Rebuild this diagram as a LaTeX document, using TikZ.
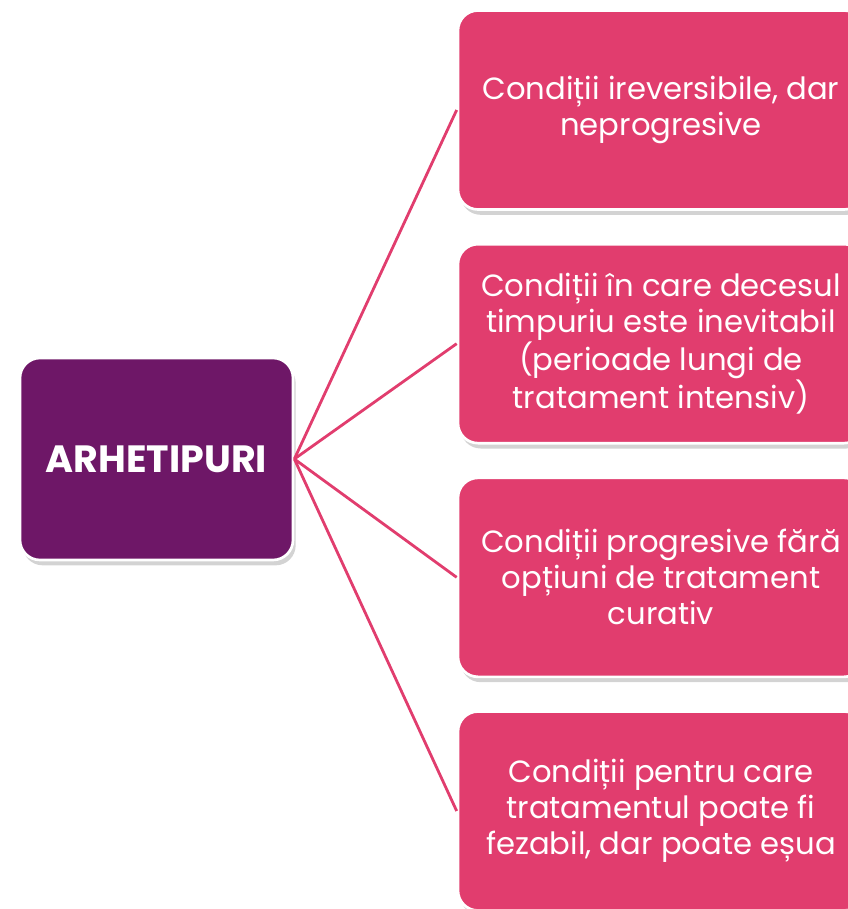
\documentclass[tikz,border=0pt]{standalone}
\usepackage{fontspec}
\setmainfont{Poppins}
\usetikzlibrary{positioning,shadows}
\definecolor{rootpurple}{HTML}{6E1767}
\definecolor{leafpink}{HTML}{E13D6E}
\tikzset{
  rootbox/.style={rectangle, rounded corners=15pt, fill=rootpurple, draw=white,
    line width=2pt, minimum width=204.75pt, minimum height=151.5pt,
    text=white, font=\fontsize{28.5}{34}\selectfont\bfseries,
    drop shadow={shadow xshift=2pt, shadow yshift=-4pt, opacity=0.35}},
  leafbox/.style={rectangle, rounded corners=15pt, fill=leafpink, draw=white,
    line width=2pt, minimum width=304.5pt, minimum height=149.25pt,
    text=white, align=center, font=\fontsize{23}{27}\selectfont,
    drop shadow={shadow xshift=2pt, shadow yshift=-4pt, opacity=0.35}},
  link/.style={draw=leafpink, line width=2.1pt}
}
\begin{document}
\begin{tikzpicture}[x=0.75pt,y=-0.75pt, node distance=24pt]
\useasboundingbox (0,0) rectangle (848,909);
		\node (root) [rootbox] at (156.5,459) {ARHETIPURI};
		\node (c1) [leafbox] at (661,110) {Condiții ireversibile, dar\\neprogresive};
		\node (c2) [leafbox, below=of c1] {Condiții în care decesul\\timpuriu este inevitabil\\(perioade lungi de\\tratament intensiv)};
		\node (c3) [leafbox, below=of c2] {Condiții progresive fără\\opțiuni de tratament\\curativ};
		\node (c4) [leafbox, below=of c3] {Condiții pentru care\\tratamentul poate fi\\fezabil, dar poate eșua};
		\draw [link] (root.east) -- (c1.west);
		\draw [link] (root.east) -- (c2.west);
		\draw [link] (root.east) -- (c3.west);
		\draw [link] (root.east) -- (c4.west);
\end{tikzpicture}
\end{document}
